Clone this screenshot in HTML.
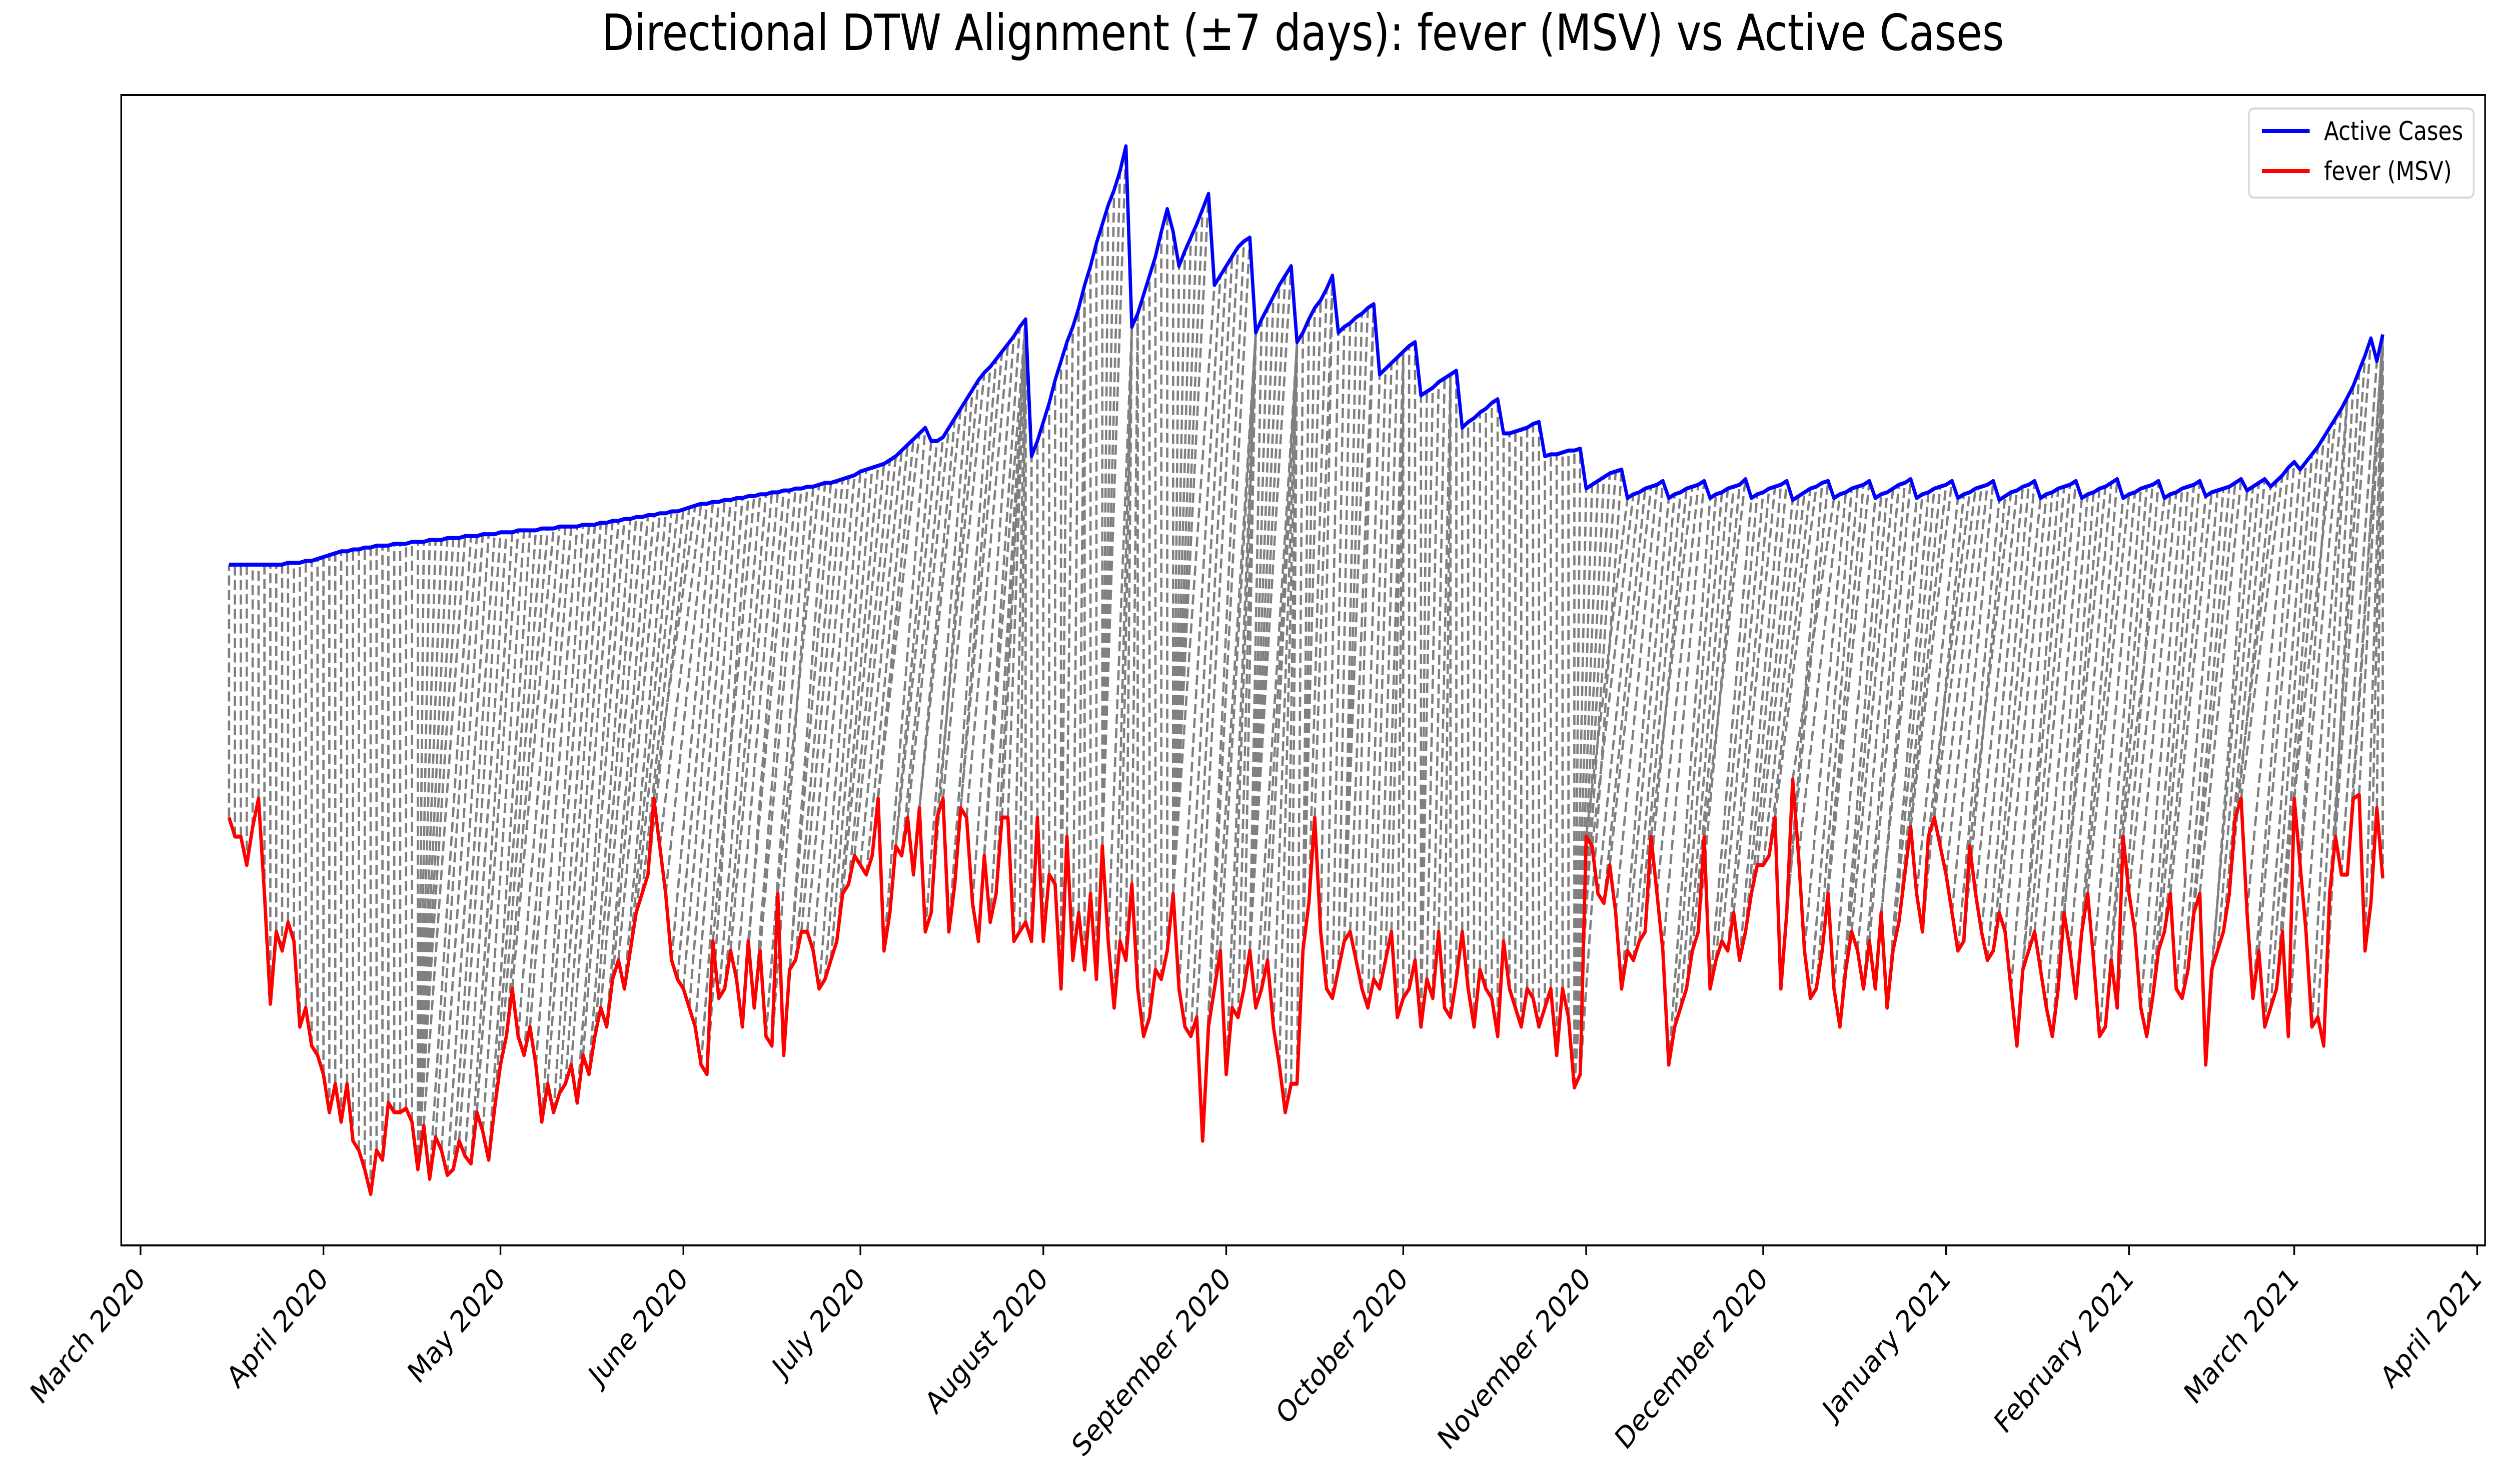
<!DOCTYPE html>
<html><head><meta charset="utf-8"><style>
html,body{margin:0;padding:0;background:#fff;width:100%;height:100%;overflow:hidden;}
svg{display:block;position:absolute;left:0;top:0;width:100vw;height:100vh;font-family:"DejaVu Sans","Liberation Sans",sans-serif;}
</style></head><body>
<svg id="chart" viewBox="0 0 5962 2967" preserveAspectRatio="none" xmlns="http://www.w3.org/2000/svg">
<rect x="0" y="0" width="5962" height="2967" fill="#fff"/>
<text x="3106" y="100" font-size="100" text-anchor="middle" fill="#000">Directional DTW Alignment (±7 days): fever (MSV) vs Active Cases</text>
<g id="dtw"></g>
<g id="series"></g>
<rect x="289" y="190" width="5635" height="2300" fill="none" stroke="#000" stroke-width="4"/>
<g id="xaxis"></g>
<g>
<rect x="5361" y="217" width="536" height="178" rx="12" fill="#fff" fill-opacity="0.8" stroke="#d6d6d6" stroke-width="4"/>
<line x1="5392" y1="262" x2="5506" y2="262" stroke="#0000ff" stroke-width="8"/>
<text x="5540" y="280" font-size="52" fill="#000">Active Cases</text>
<line x1="5392" y1="342" x2="5506" y2="342" stroke="#ff0000" stroke-width="8"/>
<text x="5540" y="360" font-size="52" fill="#000">fever (MSV)</text>
</g>
</svg>
<script>
const startDay = 15; // March 16 2020 as days after March 1 2020
const activeCases = [
358,358,358,358,358,358,358,358,358,358,359,359,359,360,360,361,
362,363,364,365,365,366,366,367,367,368,368,368,369,369,369,370,370,370,371,371,371,372,372,372,373,373,373,374,374,374,
375,375,375,376,376,376,376,377,377,377,378,378,378,378,379,379,379,380,380,381,381,382,382,383,383,384,384,385,385,386,386,
387,388,389,390,390,391,391,392,392,393,393,394,394,395,395,396,396,397,397,398,398,399,399,400,401,401,402,403,404,405,
407,408,409,410,411,413,415,418,421,424,427,430,423,423,425,430,435,440,445,450,455,459,462,466,470,474,478,483,487,
415,423,433,443,455,465,475,483,493,505,515,527,537,547,555,565,578,
483,490,500,510,520,533,545,533,515,523,530,537,545,553,
505,510,515,520,525,528,530,
480,487,493,499,505,510,515,
475,480,487,493,497,503,510,
480,483,485,488,490,493,495,
458,461,464,467,470,473,475,
447,449,451,454,456,458,460,
430,433,435,438,440,443,445,
427,427,428,429,430,432,433,
415,416,416,417,418,418,419,
398,400,402,404,406,407,408,
393,395,396,398,399,400,402,
393,395,396,398,399,400,402,
393,395,396,398,399,400,403,
393,395,396,398,399,400,402,
392,394,396,398,399,401,402,
393,395,396,398,399,400,402,
393,395,396,398,400,401,403,
393,395,396,398,399,400,402,
393,395,396,398,399,400,402,
392,394,396,397,399,400,402,
393,395,396,398,399,400,402,
393,395,396,398,399,401,403,
393,395,396,398,399,400,402,
393,395,396,398,399,400,402,
394,396,397,398,399,401,403,
397,399,401,403,399,402,405,409,412,408,412,416,420,425,430,435,440,446,452,460,468,477,465,479
];
const fever = [
225,215,215,200,220,235,185,127,165,155,170,160,115,125,105,100,
90,70,85,65,85,55,50,40,27,50,45,75,70,70,72,65,40,63,35,57,50,37,40,55,47,43,70,60,45,72,
95,110,135,110,100,115,95,65,85,70,80,85,95,75,100,90,110,125,115,140,150,135,155,175,185,195,235,210,185,150,140,
135,125,115,95,90,160,130,135,155,140,115,160,125,155,110,105,185,100,145,150,165,165,155,135,140,150,160,185,190,205,
200,195,205,235,155,175,210,205,225,195,230,165,175,225,235,165,190,230,225,180,160,205,170,185,225,225,160,165,170,160,225,
160,195,190,135,215,150,175,145,185,140,210,160,125,160,150,190,135,110,120,145,140,155,185,135,115,110,120,55,115,135,155,
90,125,120,135,155,125,135,150,115,95,70,85,85,155,180,225,165,135,130,145,160,165,150,135,125,140,135,150,165,120,
130,135,150,115,140,130,165,125,120,140,165,135,115,145,135,130,110,160,135,125,115,135,130,115,125,135,100,135,120,83,90,
215,210,185,180,200,175,135,155,150,160,165,215,185,155,95,115,125,135,155,165,215,135,150,160,155,175,150,165,185,200,
200,205,225,135,175,245,205,155,130,135,155,185,135,115,145,165,155,135,160,135,175,125,155,170,195,220,185,165,215,225,210,
195,175,155,160,210,185,165,150,155,175,165,135,105,145,155,165,145,125,110,135,175,155,130,165,185,150,110,115,150,125,215,
185,165,125,110,130,155,165,185,135,130,145,175,185,95,145,155,165,185,225,235,175,130,155,115,125,135,165,110,
235,200,165,115,120,105,185,215,195,195,235,237,155,180,230,193
];
const tickLabels = ["March 2020","April 2020","May 2020","June 2020","July 2020","August 2020","September 2020","October 2020","November 2020","December 2020","January 2021","February 2021","March 2021","April 2021"];
const tickDays = [0,31,61,92,122,153,184,214,245,275,306,337,365,396];
const windowDays = 7;

const X0 = 335, PXD = 14.066;
function xScale(day){ return X0 + day * PXD; }
function yScale(v){ return 2490 - v * 3.802; }
const NS = "http://www.w3.org/2000/svg";

function mmnorm(a){ const mn=Math.min(...a), mx=Math.max(...a); return a.map(v=>(v-mn)/((mx-mn)||1)); }
const n = Math.min(fever.length, activeCases.length);
const A = mmnorm(fever.slice(0,n)), B = mmnorm(activeCases.slice(0,n));
const INF = 1e18;
const D = [];
for (let i=0;i<n;i++){ D.push(new Float64Array(n).fill(INF)); }
for (let i=0;i<n;i++){
  for (let j=i;j<=Math.min(n-1,i+windowDays);j++){
    const c = Math.abs(A[i]-B[j]);
    if (i===0 && j===0){ D[i][j]=c; continue; }
    let best = INF;
    if (i>0) best = Math.min(best, D[i-1][j]);
    if (j>0) best = Math.min(best, D[i][j-1]);
    if (i>0 && j>0) best = Math.min(best, D[i-1][j-1]);
    D[i][j] = c + best;
  }
}
const path = [];
let i=n-1, j=n-1;
path.push([i,j]);
while (i>0 || j>0){
  let cand = [];
  if (i>0 && j>0) cand.push([D[i-1][j-1],i-1,j-1]);
  if (i>0) cand.push([D[i-1][j],i-1,j]);
  if (j>0) cand.push([D[i][j-1],i,j-1]);
  cand.sort((a,b)=>a[0]-b[0]);
  i=cand[0][1]; j=cand[0][2];
  path.push([i,j]);
}
const dtwG = document.getElementById('dtw');
path.forEach(([a,b])=>{
  const l = document.createElementNS(NS,'line');
  l.setAttribute('x1', xScale(startDay+a)); l.setAttribute('y1', yScale(fever[a]));
  l.setAttribute('x2', xScale(startDay+b)); l.setAttribute('y2', yScale(activeCases[b]));
  l.setAttribute('stroke','#808080'); l.setAttribute('stroke-width','5.5');
  l.setAttribute('stroke-dasharray','20,9');
  
  
  dtwG.appendChild(l);
});

const sg = document.getElementById('series');
function poly(arr, color, name){
  const p = document.createElementNS(NS,'polyline');
  p.setAttribute('points', arr.map((v,k)=>xScale(startDay+k).toFixed(1)+','+yScale(v).toFixed(1)).join(' '));
  p.setAttribute('fill','none'); p.setAttribute('stroke',color); p.setAttribute('stroke-width','8');
  p.setAttribute('stroke-linejoin','round');
  
  
  sg.appendChild(p);
}
poly(fever,'#ff0000','fever-line');
poly(activeCases,'#0000ff','active-cases-line');

const xg = document.getElementById('xaxis');
tickLabels.forEach((lab,k)=>{
  const x = xScale(tickDays[k]);
  const t = document.createElementNS(NS,'line');
  t.setAttribute('x1',x); t.setAttribute('x2',x); t.setAttribute('y1',2490); t.setAttribute('y2',2509);
  t.setAttribute('stroke','#000'); t.setAttribute('stroke-width','4');
  
  
  xg.appendChild(t);
  const tx = document.createElementNS(NS,'text');
  tx.setAttribute('x', x+14); tx.setAttribute('y', 2560);
  tx.setAttribute('font-size','60'); tx.setAttribute('text-anchor','end');
  tx.setAttribute('transform','rotate(-45 '+(x+14)+' 2560)');
  tx.textContent = lab;
  
  
  xg.appendChild(tx);
});
</script>
</body></html>
